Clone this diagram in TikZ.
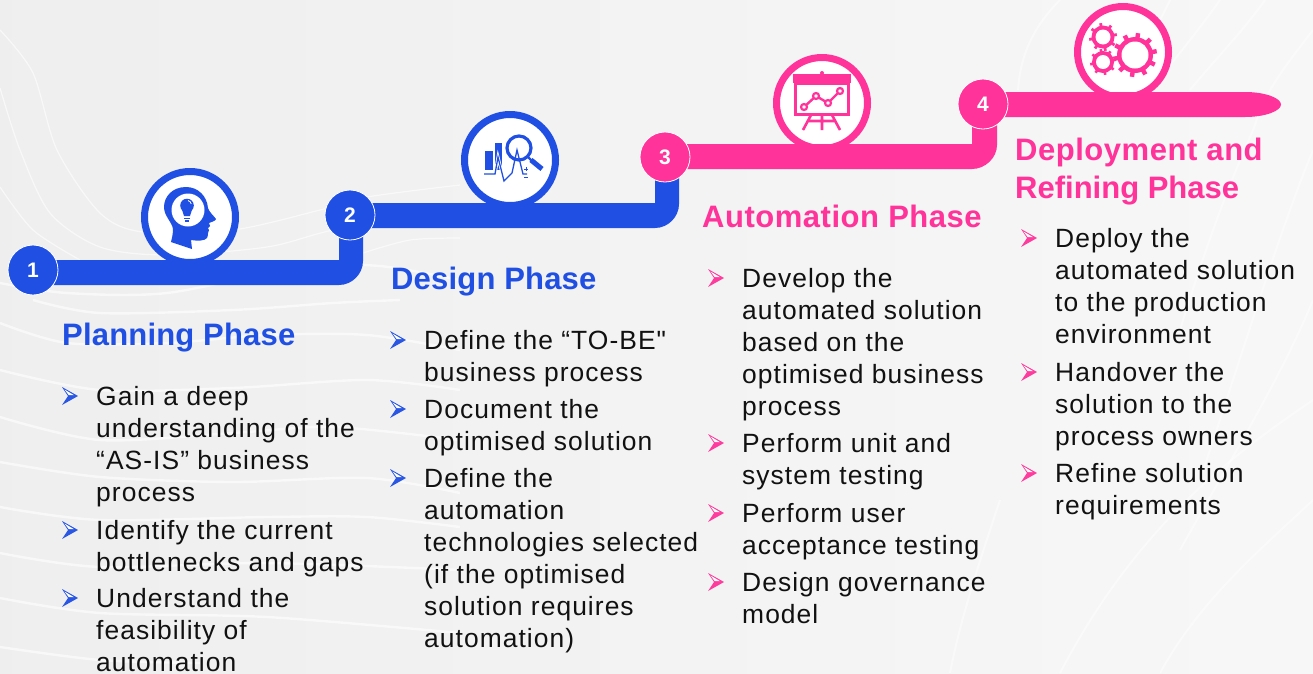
\documentclass[tikz,border=0pt]{standalone}
\usepackage{fontspec}
\setmainfont{Liberation Sans}
\newfontfamily\bodyface[LetterSpace=4]{Liberation Sans}
\newfontfamily\headblue[LetterSpace=0.6]{Liberation Sans}
\newfontfamily\headpink[LetterSpace=1.7]{Liberation Sans}
\usetikzlibrary{calc}
\definecolor{bluec}{HTML}{1F4FE3}
\definecolor{pinkc}{HTML}{FF3399}
\definecolor{inkc}{HTML}{111111}
\pgfdeclarelayer{bgl}
\pgfdeclarelayer{ringl}
\pgfdeclarelayer{bandl}
\pgfsetlayers{bgl,ringl,bandl,main}
\tikzset{
  stepdot/.style={circle,minimum size=50pt,inner sep=0pt,draw=white,line width=0.8pt,text=white,font=\fontsize{21}{24}\selectfont\bfseries},
  iconring/.style={circle,minimum size=91pt,inner sep=0pt,fill=white,line width=7pt},
  heading/.style={anchor=base west,inner sep=0pt,font=\fontsize{31}{38}\selectfont\bfseries},
  itemtext/.style={anchor=north west,inner sep=0pt,align=left,text=inkc,font=\fontsize{26.4}{32}\selectfont\bodyface},
  swirl/.style={draw=white,line width=1.2pt,opacity=.6},
  wave/.style={draw=white,line width=2.4pt,opacity=.6},
  faint/.style={draw=white,line width=2pt,opacity=.45},
}
\newcommand{\bulletmark}[3]{%
  \begin{scope}[shift={(#1,#2)}]
    \fill[#3,opacity=.95] (0,0) -- (16,9) -- (0,18) -- (6,9) -- cycle;
    \fill[white] (2.5,2.5) -- (12,8.2) -- (6.8,8.2) -- cycle;
  \end{scope}}
\newcommand{\phaseitem}[6]{% name, text x, first baseline, bullet colour, text, bullet x
  \bulletmark{#6}{#3-18}{#4}
  \node[itemtext] (#1) at (#2,#3-22) {\rule{0pt}{22pt}#5};}
\newcommand{\gearshape}[6]{% x,y,body,teeth,hole,count
  \foreach \a in {1,...,#6}{
    \draw[pinkc,line width=#4*0.2pt] ($(#1,#2)+({\a*360/#6+10}:#3*0.8pt)$) -- ($(#1,#2)+({\a*360/#6+10}:#4*1pt)$);}
  \fill[pinkc] (#1,#2) circle[radius=#3*1pt];
  \fill[white] (#1,#2) circle[radius=#5*1pt];}
% colour, from dot, to dot, dy of band top, left and right offset at the riser
\newcommand{\stepband}[6]{%
  \fill[#1] ($(#2)+(0,#4)$) -- ($(#3 |- #2)+(#5,#4)$) -- ($(#3)+(#5,0)$) -- ($(#3)+(#6,0)$)
    -- ($(#3 |- #2)+(#6,#4+1)$) .. controls ($(#3 |- #2)+(#6,#4+14)$) and ($(#3 |- #2)+(#5+13,#4+25)$)
    .. ($(#3 |- #2)+(#5,#4+25)$) -- ($(#2)+(0,#4+25)$) -- cycle;}
\begin{document}
\begin{tikzpicture}[x=1pt,y=-1pt]
\useasboundingbox (0,0) rectangle (1313,673);

% step dots
\node[stepdot,fill=bluec] (n1) at (33,270) {1};
\node[stepdot,fill=bluec] (n2) at (350,215) {2};
\node[stepdot,fill=pinkc] (n3) at (665,157) {3};
\node[stepdot,fill=pinkc] (n4) at (983,104) {4};
\coordinate (tip) at (1281,104.5);

\begin{pgfonlayer}{bgl}
\shade[left color=black!6.5,right color=black!3] (0,0) rectangle (1313,673);
% faint background lines
\draw[swirl] plot[smooth] coordinates {(0,30) (33,73) (57,150) (100,213) (143,232) (233,230) (320,210) (367,197) (460,185)};
\draw[swirl] plot[smooth] coordinates {(0,88) (20,150) (50,213) (100,247) (167,255) (267,247) (333,230) (460,205)};
\draw[swirl] plot[smooth] coordinates {(0,187) (33,230) (80,260)};
\draw[swirl] plot[smooth] coordinates {(363,253) (410,240) (460,238)};
\draw[wave] plot[smooth] coordinates {(0,283) (67,293) (167,293) (300,267) (380,266) (460,280)};
\draw[wave] plot[smooth] coordinates {(33,300) (100,313) (233,310) (333,303) (400,300)};
\draw[wave] plot[smooth] coordinates {(0,323) (67,343) (167,343) (267,335) (367,335) (460,350)};
\draw[wave] plot[smooth] coordinates {(0,370) (100,390) (233,388) (367,380) (460,390)};
\draw[wave] plot[smooth] coordinates {(0,417) (100,440) (233,433) (333,427) (460,440)};
\draw[wave] plot[smooth] coordinates {(0,462) (100,477) (233,482) (367,478) (460,493)};
\draw[wave] plot[smooth] coordinates {(0,507) (100,520) (267,517) (367,517) (460,527)};
\draw[wave] plot[smooth] coordinates {(0,553) (100,567) (267,563) (460,570)};
\draw[wave] plot[smooth] coordinates {(0,598) (100,613) (267,617) (460,633)};
\draw[wave] plot[smooth] coordinates {(0,647) (100,660) (200,663)};
\draw[faint] (1060,0) .. controls (1030,30) and (1020,60) .. (1018,90);
\draw[faint] (1170,0) .. controls (1155,30) and (1140,60) .. (1125,90);
\draw[faint] (1220,0) .. controls (1195,35) and (1170,65) .. (1150,90);
\draw[faint] (1265,0) .. controls (1240,35) and (1210,65) .. (1190,90);
\draw[faint] (1313,30) .. controls (1290,60) and (1265,90) .. (1255,125) .. controls (1245,150) and (1220,200) .. (1180,330);
\draw[faint] (1313,150) .. controls (1280,230) and (1250,330) .. (1200,480);
\draw[faint] (1313,300) .. controls (1280,380) and (1230,460) .. (1180,550);
\draw[faint] (1313,400) .. controls (1240,450) and (1140,520) .. (1060,673);
\draw[faint] (1313,500) .. controls (1260,550) and (1200,600) .. (1160,673);
\draw[faint] (1000,500) .. controls (980,560) and (960,620) .. (950,673);
\end{pgfonlayer}

% icon rings, behind the bands
\begin{pgfonlayer}{ringl}
\node[iconring,draw=bluec] (i1) at (190,217) {};
\node[iconring,draw=bluec] (i2) at (510,160) {};
\node[iconring,draw=pinkc] (i3) at (822,103) {};
\node[iconring,draw=pinkc] (i4) at (1123,52) {};
\end{pgfonlayer}

% bands, behind the dots
\begin{pgfonlayer}{bandl}
\stepband{bluec}{n1}{n2}{-10}{-11}{13}
\stepband{bluec}{n2}{n3}{-12}{-10}{14}
\stepband{pinkc}{n3}{n4}{-13}{-11}{14}
\fill[pinkc] ($(n4)+(0,-12)$) -- (1245,92) .. controls (1265,92) and (1281,98) .. (tip)
  .. controls (1281,111) and (1265,117) .. (1245,117) -- ($(n4)+(0,13)$) -- cycle;
\end{pgfonlayer}

% icon 1: head and bulb
\fill[bluec] (171,242) -- (192,249) -- (191,240) .. controls (197,241) and (205,241) .. (207,238)
  .. controls (209,234) and (207,232) .. (209,230) -- (208,228) -- (210,226) -- (209,223)
  .. controls (211,222) and (216,221) .. (216,219) .. controls (214,216) and (209,212) .. (208,208)
  .. controls (207,196) and (198,187) .. (186,187) .. controls (172,187) and (164,197) .. (164,207)
  .. controls (164,216) and (172,222) .. (173,229) .. controls (173,234) and (172,238) .. (171,242) -- cycle;
\fill[white] (188,210) circle[radius=16.5pt];
\fill[bluec] (187,205.5) circle[radius=6.8pt];
\fill[bluec] (181.5,208) -- (192.5,208) -- (190,216) -- (184,216) -- cycle;
\fill[bluec] (184,217.5) rectangle (190,219);
\fill[bluec] (184.8,220) rectangle (189.2,221.5);
\draw[white,line width=.8pt] (188,200.5) .. controls (190,201) and (191,202.5) .. (191.2,204);

% icon 2: bars, magnifier, pulse
\fill[bluec] (485,151) rectangle (493,170);
\fill[bluec] (495,143) rectangle (502,170);
\draw[white,line width=3pt] (495,174) -- (498,157) -- (504,181);
\draw[bluec,line width=3.2pt] (519,148) circle[radius=12pt];
\draw[bluec,line width=2.2pt] (528,157) -- (532,161);
\draw[bluec,line width=5pt] (531,160) -- (542,169);
\draw[bluec,line width=1.3pt] (484,174) -- (495,174) -- (498,157) -- (504,181) -- (512,173) -- (517,150) -- (523,174) -- (527,174);
\draw[bluec,line width=1pt] (524,169) -- (528,169) (526,167) -- (526,171) (524,177) -- (528,177);

% icon 3: chart board
\fill[pinkc] (793,74) rectangle (851,83);
\fill[pinkc] (822,73) circle[radius=2pt];
\draw[pinkc,line width=3pt] (795,83) rectangle (848,114);
\draw[pinkc,line width=2.6pt] (811,115) -- (803,130) (832,115) -- (840,130) (822,115) -- (822,130) (808,121) -- (835,121);
\draw[pinkc,line width=2.4pt] (804,107) -- (816,96) -- (828,103) -- (840,91);
\foreach \p in {(804,107),(816,96),(828,103),(840,91)}
  \draw[pinkc,fill=white,line width=2.2pt] \p circle[radius=3pt];

% icon 4: gears
\gearshape{1135}{55}{18}{22}{13.5}{10}
\gearshape{1103}{37}{11.5}{14}{7.5}{8}
\gearshape{1103}{62}{11}{13}{7}{8}

% headings
\node[heading,text=bluec] (h1) at (62,345) {\headblue Planning Phase};
\node[heading,text=bluec] (h2) at (391,289) {\headblue Design Phase};
\node[heading,text=pinkc] (h3) at (702,227) {\headpink Automation Phase};
\node[heading,text=pinkc,align=left,anchor=north west] (h4) at (1015,132) {\headpink\rule{0pt}{28pt}Deployment and\\\rule{0pt}{28pt}Refining Phase};

% lists
\phaseitem{a1}{96}{405}{bluec}{Gain a deep\\understanding of the\\“AS-IS” business\\process}{62}
\phaseitem{a2}{96}{539}{bluec}{Identify the current\\bottlenecks and gaps}{62}
\phaseitem{a3}{96}{607}{bluec}{Understand the\\feasibility of\\automation}{62}

\phaseitem{b1}{424}{349}{bluec}{Define the “TO-BE"\\business process}{390}
\phaseitem{b2}{424}{418}{bluec}{Document the\\optimised solution}{390}
\phaseitem{b3}{424}{487}{bluec}{Define the\\automation\\technologies selected\\(if the optimised\\solution requires\\automation)}{390}

\phaseitem{c1t}{742}{287}{pinkc}{Develop the\\automated solution\\based on the\\optimised business\\process}{708}
\phaseitem{c2t}{742}{452}{pinkc}{Perform unit and\\system testing}{708}
\phaseitem{c3t}{742}{522}{pinkc}{Perform user\\acceptance testing}{708}
\phaseitem{c4t}{742}{591}{pinkc}{Design governance\\model}{708}

\phaseitem{d1}{1055}{247}{pinkc}{Deploy the\\automated solution\\to the production\\environment}{1021}
\phaseitem{d2}{1055}{381}{pinkc}{Handover the\\solution to the\\process owners}{1021}
\phaseitem{d3}{1055}{482}{pinkc}{Refine solution\\requirements}{1021}
\end{tikzpicture}
\end{document}
